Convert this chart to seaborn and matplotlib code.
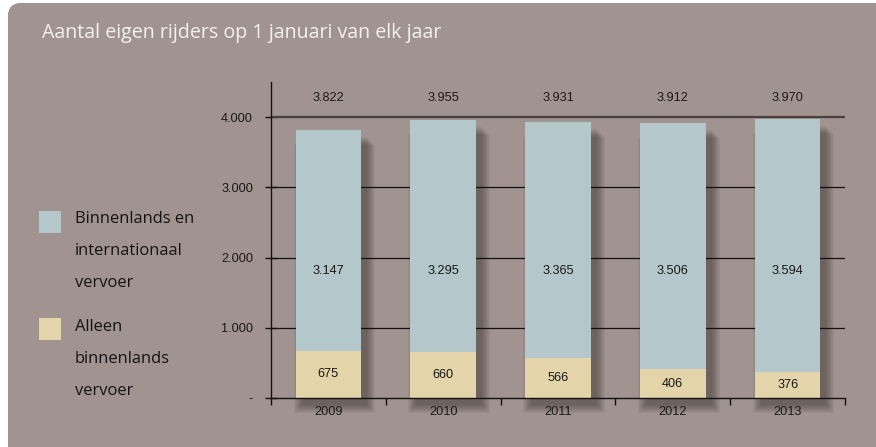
import numpy as np
import pandas as pd
import matplotlib
matplotlib.use("Agg")
import matplotlib.pyplot as plt
import seaborn as sns
from matplotlib.patches import FancyBboxPatch, Rectangle

# ---- data ----
years = ["2009", "2010", "2011", "2012", "2013"]
totals = [3822, 3955, 3931, 3912, 3970]
intl = [3147, 3295, 3365, 3506, 3594]          # Binnenlands en internationaal vervoer
domestic = [675, 660, 566, 406, 376]           # Alleen binnenlands vervoer
ytick_vals = [0, 1000, 2000, 3000, 4000]
ytick_labels = ["-", "1.000", "2.000", "3.000", "4.000"]

title = "Aantal eigen rijders op 1 januari van elk jaar"
legend1 = ["Binnenlands en", "internationaal", "vervoer"]
legend2 = ["Alleen", "binnenlands", "vervoer"]

BG = "#a19490"
BLUE = "#b4c7cb"
TAN = "#e3d5a9"
TXT = "#1b1818"
NUMFS = 9.2

sns.set_theme(style="white")
plt.rcParams["font.family"] = ["Liberation Sans", "DejaVu Sans"]

W, H = 876, 447
fig = plt.figure(figsize=(W / 100, H / 100), dpi=100)
fig.patch.set_facecolor("white")

# ---- background panel (pixel coordinates) ----
bg = fig.add_axes([0, 0, 1, 1], zorder=0)
bg.set_xlim(0, W)
bg.set_ylim(H, 0)
bg.axis("off")
panel = FancyBboxPatch((8, 3), 920, 460, boxstyle="round,pad=0,rounding_size=14",
                       fc=BG, ec="none")
bg.add_patch(panel)
shade = matplotlib.colors.ListedColormap(["#3d3331"])
# top shading
grad_top = np.linspace(0.55, 0, 20)[:, None] * np.ones((1, 2))
im = bg.imshow(np.ones_like(grad_top), extent=(8, 930, 23, 3), cmap=shade,
               alpha=grad_top, aspect="auto", interpolation="bilinear")
im.set_clip_path(panel)
# left shading
grad_left = np.ones((2, 1)) * np.linspace(0.5, 0, 16)[None, :]
im2 = bg.imshow(np.ones_like(grad_left), extent=(8, 24, 463, 3), cmap=shade,
                alpha=grad_left, aspect="auto", interpolation="bilinear")
im2.set_clip_path(panel)

bg.text(42, 33, title, fontsize=14.1, color="#f4f0ee", va="center", ha="left",
        family=["Open Sans", "DejaVu Sans"])

# legend
for (y0, ys, lines, col) in [(211, [219, 251, 283], legend1, BLUE),
                             (318, [327, 359, 391], legend2, TAN)]:
    bg.add_patch(Rectangle((39, y0), 22, 22, fc=col, ec="none"))
    for yy, t in zip(ys, lines):
        bg.text(75, yy, t, fontsize=11.9, color="#161313", va="center",
                ha="left", family=["Open Sans", "DejaVu Sans"])

# ---- main axes ----
ax = fig.add_axes([271 / W, 49 / H, 574 / W, 316 / H], zorder=1)
ax.patch.set_alpha(0)

df = pd.DataFrame({"year": years, "total": totals, "intl": intl, "domestic": domestic})
bw = 0.57
px_x = 1 / 114.8
px_y = 1000 / 70.5

# shadows
xs = np.arange(len(years))
for s in np.linspace(0, 8, 9):
    ax.bar(xs + 6 * px_x, np.array(totals), width=bw + 2 * s * px_x,
           bottom=-(7 + s) * px_y, color="#2e2523", alpha=0.06, zorder=1,
           clip_on=False, linewidth=0)

# gridlines
for v in [1000, 2000, 3000]:
    ax.axhline(v, color="#111111", lw=0.9, zorder=1.5)
ax.axhline(4000, color="#4a403e", lw=1.6, zorder=1.5)

sns.barplot(data=df, x="year", y="total", color=BLUE, width=bw, saturation=1,
            ax=ax, zorder=3, linewidth=0, errorbar=None)
sns.barplot(data=df, x="year", y="domestic", color=TAN, width=bw, saturation=1,
            ax=ax, zorder=4, linewidth=0, errorbar=None)

ax.set_xlim(-0.5, 4.5)
ax.set_ylim(0, 4500)
ax.set_xlabel("")
ax.set_ylabel("")

# value labels
for i in range(len(years)):
    ax.text(i, 4270, f"{totals[i]:,}".replace(",", "."), ha="center", va="center",
            fontsize=NUMFS, color=TXT)
    ax.text(i, 1815, f"{intl[i]:,}".replace(",", "."), ha="center", va="center",
            fontsize=NUMFS, color=TXT, zorder=5)
    ax.text(i, domestic[i] / 2, f"{domestic[i]}", ha="center", va="center",
            fontsize=NUMFS, color=TXT, zorder=5)

# spines / ticks
for sp in ["top", "right"]:
    ax.spines[sp].set_visible(False)
for sp in ["left", "bottom"]:
    ax.spines[sp].set_color("#111111")
    ax.spines[sp].set_linewidth(1.0)
    ax.spines[sp].set_zorder(6)

ax.set_yticks(ytick_vals)
ax.set_yticklabels(ytick_labels)
ax.tick_params(axis="y", direction="inout", length=8, width=1, color="#111111",
               pad=9, labelsize=NUMFS, labelcolor=TXT, left=True)
ax.set_xticks(np.arange(-0.5, 5, 1))
ax.set_xticklabels([])
ax.set_xticks(xs, minor=True)
ax.set_xticklabels(years, minor=True)
ax.tick_params(axis="x", which="major", direction="out", length=5, width=1,
               color="#111111", bottom=True)
ax.tick_params(axis="x", which="minor", length=0, pad=6, labelsize=NUMFS,
               labelcolor=TXT)

fig.savefig("out.png", dpi=100, facecolor="white")
